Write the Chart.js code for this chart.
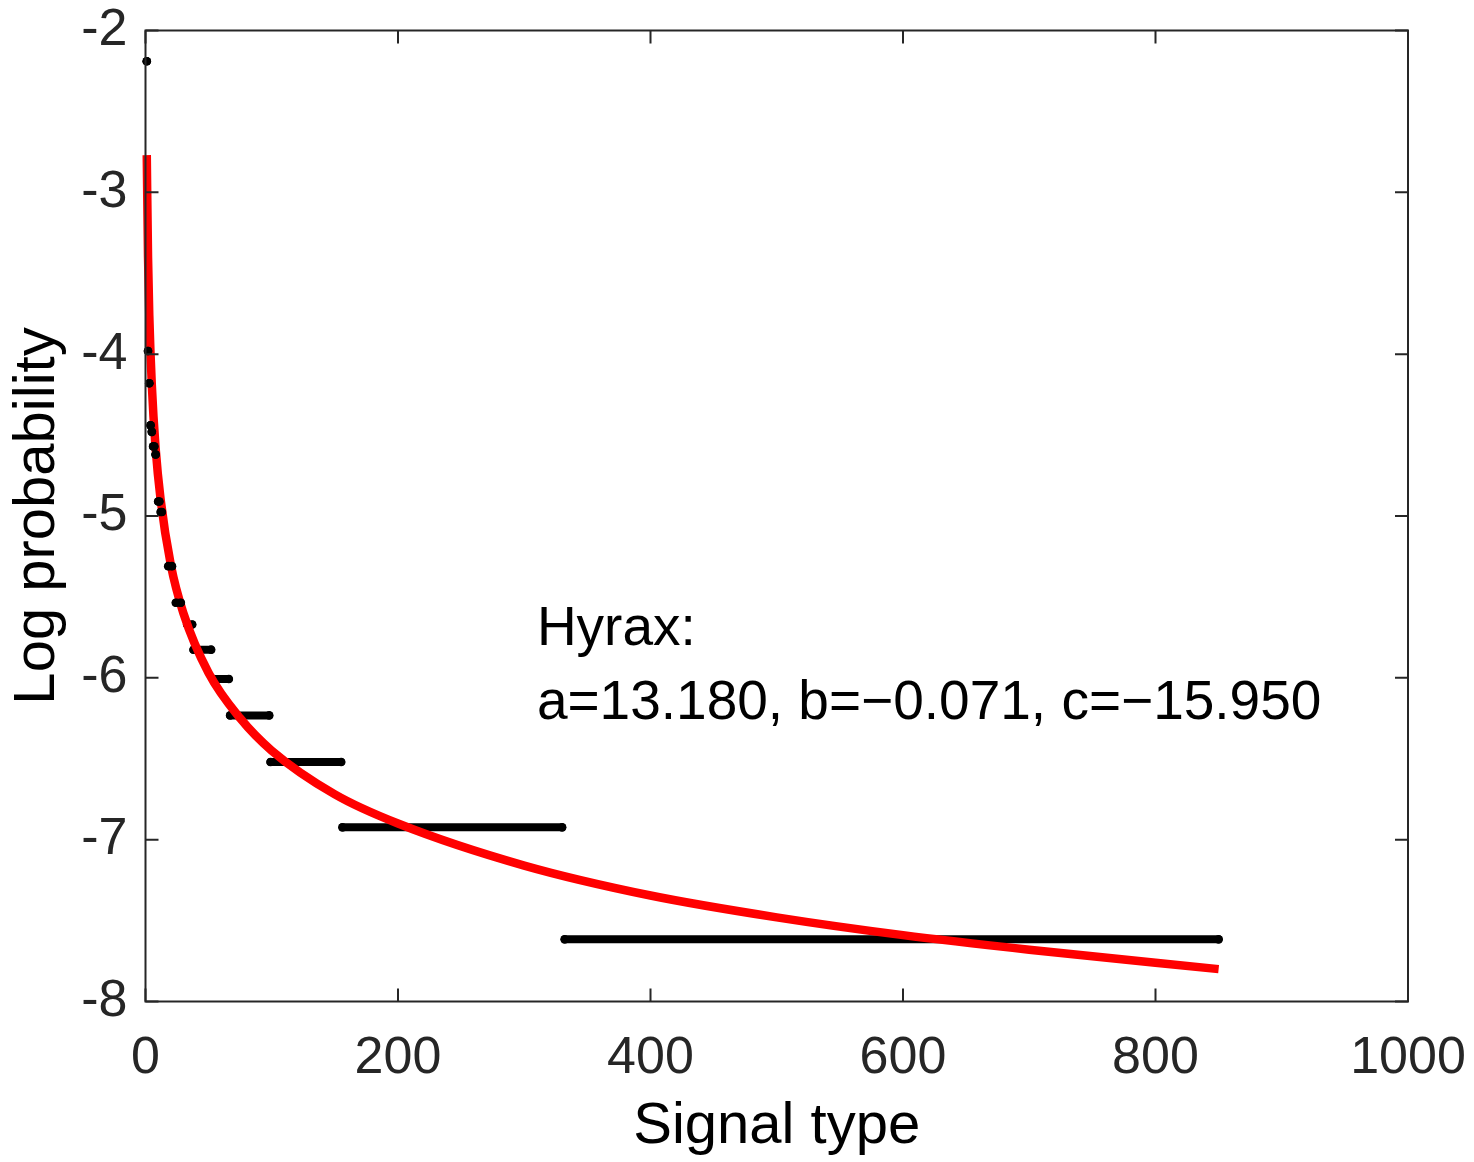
<!DOCTYPE html>
<html>
<head>
<meta charset="utf-8">
<script src="https://cdn.jsdelivr.net/npm/chart.js@4.4.1/dist/chart.umd.min.js"></script>
<style>
  html, body { margin: 0; padding: 0; background: #ffffff; }
  #wrap { width: 1474px; height: 1162px; position: relative; }
</style>
</head>
<body>
<div id="wrap"><canvas id="c" width="1474" height="1162"></canvas></div>
<script>
// ---- data ----
const xTickValues = [0, 200, 400, 600, 800, 1000];
const yTickValues = [-8, -7, -6, -5, -4, -3, -2];
const xTitle = 'Signal type';
const yTitle = 'Log probability';

// observed log probability by signal-type rank (runs of equal values)
const rankStart = [1, 2, 3, 4, 5, 6, 8, 10, 12, 18, 24, 33, 38, 54, 67, 99, 156, 332];
const rankEnd   = [1, 2, 3, 4, 5, 7, 8, 11, 13, 21, 28, 37, 52, 66, 98, 155, 330, 850];
const logProb   = [-2.19, -3.98, -4.18, -4.44, -4.48, -4.57, -4.62, -4.91, -4.975, -5.31,
                   -5.536, -5.67, -5.826, -6.007, -6.232, -6.52, -6.924, -7.616];

// fitted curve (red)
const fitX = [1, 2, 3, 5, 8, 12, 20, 30, 50, 75, 100, 150, 200, 300, 400, 500, 600, 700, 850];
const fitY = [-2.77, -3.40, -3.76, -4.19, -4.58, -4.90, -5.30, -5.60, -5.97, -6.25, -6.45,
              -6.72, -6.90, -7.16, -7.345, -7.48, -7.59, -7.68, -7.80];

const annotationLines = ['Hyrax:', 'a=13.180, b=\u22120.071, c=\u221215.950'];
const annotationAnchor = { x: 310, y1: -5.80, y2: -6.255 };

// ---- styling ----
const FONT = '"Liberation Sans", Arial, Helvetica, sans-serif';
const AXIS_COLOR = '#262626';

const blackDatasets = rankStart.map((s, i) => ({
  label: 'observed ' + i,
  data: [{ x: s, y: logProb[i] }, { x: rankEnd[i], y: logProb[i] }],
  showLine: true,
  borderColor: '#000000',
  backgroundColor: '#000000',
  borderWidth: 8,
  borderCapStyle: 'round',
  pointRadius: 4.3,
  pointBorderWidth: 0,
  pointBackgroundColor: '#000000',
  clip: false,
  order: s >= 33 ? 2 : 0
}));

const fitDataset = {
  label: 'fit',
  data: fitX.map((x, i) => ({ x: x, y: fitY[i] })),
  showLine: true,
  borderColor: '#ff0000',
  borderWidth: 8.5,
  pointRadius: 0,
  cubicInterpolationMode: 'monotone',
  clip: false,
  order: 1
};

const noOverflow = s => {
  s.paddingTop = 0; s.paddingBottom = 0; s.paddingLeft = 0; s.paddingRight = 0;
};

const framePlugin = {
  id: 'frame',
  afterDraw(chart) {
    const { ctx, chartArea: a, scales: { x, y } } = chart;
    ctx.save();
    // annotation text
    ctx.fillStyle = '#000000';
    ctx.font = '55px ' + FONT;
    ctx.textAlign = 'left';
    ctx.textBaseline = 'alphabetic';
    const tx = x.getPixelForValue(annotationAnchor.x);
    ctx.fillText(annotationLines[0], tx, y.getPixelForValue(annotationAnchor.y1));
    ctx.fillText(annotationLines[1], tx, y.getPixelForValue(annotationAnchor.y2));
    // box and inward ticks
    ctx.strokeStyle = AXIS_COLOR;
    ctx.lineWidth = 2;
    ctx.strokeRect(a.left, a.top, a.right - a.left, a.bottom - a.top);
    const L = 13;
    ctx.beginPath();
    x.ticks.forEach(t => {
      const px = x.getPixelForValue(t.value);
      ctx.moveTo(px, a.bottom); ctx.lineTo(px, a.bottom - L);
      ctx.moveTo(px, a.top); ctx.lineTo(px, a.top + L);
    });
    y.ticks.forEach(t => {
      const py = y.getPixelForValue(t.value);
      ctx.moveTo(a.left, py); ctx.lineTo(a.left + L, py);
      ctx.moveTo(a.right, py); ctx.lineTo(a.right - L, py);
    });
    ctx.stroke();
    ctx.restore();
  }
};

new Chart(document.getElementById('c'), {
  type: 'scatter',
  data: { datasets: [...blackDatasets, fitDataset] },
  options: {
    responsive: false,
    animation: false,
    devicePixelRatio: 1,
    layout: { padding: { left: 0, right: 66, top: 30.5, bottom: 0 } },
    plugins: { legend: { display: false }, tooltip: { enabled: false } },
    scales: {
      x: {
        type: 'linear',
        min: 0, max: 1000,
        afterBuildTicks: s => { s.ticks = xTickValues.map(v => ({ value: v })); },
        afterFit: s => { s.height = 160.5; noOverflow(s); },
        grid: { display: false, drawTicks: false },
        border: { display: false },
        ticks: {
          color: AXIS_COLOR,
          font: { family: FONT, size: 52, lineHeight: 1 },
          padding: 31,
          maxRotation: 0,
          callback: v => String(v)
        },
        title: {
          display: true, text: xTitle, color: '#000000',
          font: { family: FONT, size: 58 },
          padding: { top: 0, bottom: 0 }
        }
      },
      y: {
        type: 'linear',
        min: -8, max: -2,
        afterBuildTicks: s => { s.ticks = yTickValues.map(v => ({ value: v })); },
        afterFit: s => { s.width = 145.5; noOverflow(s); },
        grid: { display: false, drawTicks: false },
        border: { display: false },
        ticks: {
          color: AXIS_COLOR,
          font: { family: FONT, size: 52, lineHeight: 1 },
          padding: 18,
          callback: v => String(v)
        },
        title: {
          display: true, text: yTitle, color: '#000000',
          font: { family: FONT, size: 58 },
          padding: { top: 3, bottom: 0 }
        }
      }
    }
  },
  plugins: [framePlugin]
});
</script>
</body>
</html>
